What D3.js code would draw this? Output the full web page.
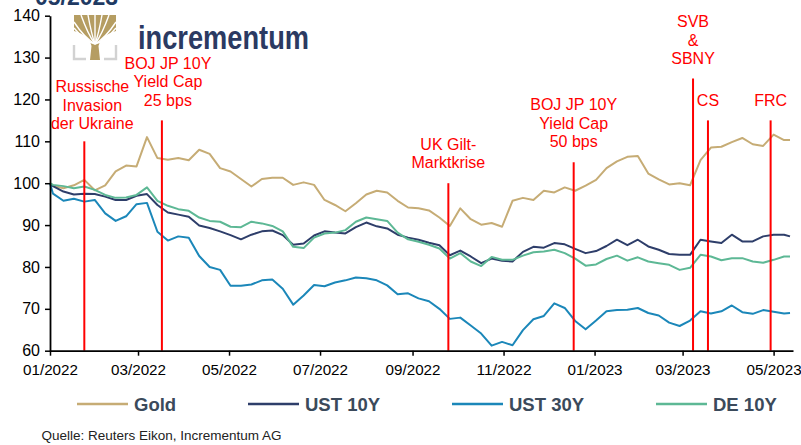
<!DOCTYPE html>
<html><head><meta charset="utf-8">
<script src="https://cdn.jsdelivr.net/npm/d3@7"></script>
<style>
body{margin:0;background:#fff}
svg{display:block}
text{font-family:"Liberation Sans",Arial,Helvetica,sans-serif}
</style>
</head><body>
<svg id="c" width="801" height="445"></svg>
<script>
// ---------- DATA ----------
const dates = ["2022-01-01","2022-01-03","2022-01-10","2022-01-17","2022-01-24","2022-01-31","2022-02-07","2022-02-14","2022-02-21","2022-02-28",
"2022-03-07","2022-03-14","2022-03-21","2022-03-28","2022-04-04","2022-04-11","2022-04-18","2022-04-25","2022-05-02","2022-05-09",
"2022-05-16","2022-05-23","2022-05-30","2022-06-06","2022-06-13","2022-06-20","2022-06-27","2022-07-04","2022-07-11","2022-07-18",
"2022-07-25","2022-08-01","2022-08-08","2022-08-15","2022-08-22","2022-08-29","2022-09-05","2022-09-12","2022-09-19","2022-09-26",
"2022-10-03","2022-10-10","2022-10-17","2022-10-24","2022-10-31","2022-11-07","2022-11-14","2022-11-21","2022-11-28","2022-12-05",
"2022-12-12","2022-12-19","2022-12-26","2023-01-02","2023-01-09","2023-01-16","2023-01-23","2023-01-30","2023-02-06","2023-02-13",
"2023-02-20","2023-02-27","2023-03-06","2023-03-13","2023-03-20","2023-03-27","2023-04-03","2023-04-10","2023-04-17","2023-04-24",
"2023-05-01","2023-05-08","2023-05-12"];

const gold = [100,99.4,98.8,99.5,100.8,98.3,99.5,102.8,104.2,104.0,
111.0,106.0,105.6,106.0,105.5,108.0,107.0,103.6,102.8,101.0,
99.2,101.0,101.3,101.3,99.6,100.2,99.6,96.0,94.8,93.3,
95.2,97.3,98.2,97.8,95.8,94.2,94.0,93.5,91.8,89.8,
94.0,91.4,90.1,90.5,89.6,95.8,96.5,96.0,98.2,97.8,
99.0,98.2,99.4,100.8,103.6,105.2,106.3,106.5,102.3,100.9,
99.7,100.0,99.5,105.5,108.5,108.7,109.8,110.8,109.3,108.9,
111.6,110.3,110.3];

const ust10 = [100,99.3,98.0,97.3,97.5,97.4,96.8,96.0,96.0,97.0,
97.4,94.8,93.0,92.5,92.0,89.9,89.3,88.5,87.6,86.6,
87.7,88.5,88.7,87.6,85.3,85.6,87.5,88.5,88.2,88.0,
89.5,90.6,89.7,89.2,87.7,87.0,86.5,85.8,85.2,82.8,
83.9,82.5,80.9,82.0,81.5,81.3,83.6,84.8,84.6,85.7,
85.4,84.3,83.3,83.8,85.0,86.5,85.2,86.5,84.9,84.1,
83.1,82.9,82.9,86.5,86.1,85.7,87.7,86.1,86.1,87.3,
87.7,87.7,87.3];

const ust30 = [100,97.5,95.8,96.3,95.6,96.0,92.8,91.0,92.1,95.0,
95.3,88.4,86.3,87.3,87.0,82.6,80.0,79.3,75.5,75.5,
75.8,76.8,77.0,74.8,71.0,73.2,75.7,75.4,76.3,76.8,
77.5,77.3,76.8,75.6,73.5,73.7,72.5,71.8,70.0,67.6,
67.9,66.0,64.1,61.2,62.1,61.3,64.9,67.5,68.3,71.3,
70.2,67.1,65.1,67.2,69.4,69.7,69.8,70.2,69.0,68.4,
66.7,65.9,67.2,69.4,68.9,69.4,70.8,69.2,68.8,69.7,
69.3,68.9,69.0];

const de10 = [100,99.6,99.3,98.8,99.2,98.4,97.2,96.5,96.6,97.2,
99.0,95.8,94.6,93.8,93.4,91.8,91.0,90.8,89.6,89.5,
90.8,90.4,89.8,88.5,84.8,84.5,87.0,88.0,88.2,88.8,
90.8,91.8,91.4,91.0,88.2,86.6,86.0,85.3,84.4,82.0,
83.3,81.3,80.2,82.4,81.7,81.7,82.7,83.5,83.7,84.1,
83.3,82.0,80.3,80.6,81.9,82.7,81.5,82.3,81.3,80.9,
80.5,79.3,79.8,82.9,82.5,81.6,82.1,82.1,81.3,81.0,
81.7,82.5,82.5];

const seriesNames = ["Gold","UST 10Y","UST 30Y","DE 10Y"];
const yTicks = [60,70,80,90,100,110,120,130,140];

const eventDates = ["2022-01-24","2022-03-17","2022-09-25","2022-12-18","2023-03-08","2023-03-18","2023-04-29"];
const eventTops  = [110,115,100,105,125,115,115];
const eventLabels = [["Russische","Invasion","der Ukraine"],["BOJ JP 10Y","Yield Cap","25 bps"],["UK Gilt-","Marktkrise"],
  ["BOJ JP 10Y","Yield Cap","50 bps"],["SVB","&","SBNY"],["CS"],["FRC"]];

// ---------- STYLE / LAYOUT ----------
const colors = ["#c6ac75","#2e3e6a","#1b87b9","#5db895"];
const labelDx = [8,6,0,0,0,0,0];
const labelGap = [12,14.5,15,15,14.5,14.5,14.5];
const lineH = 18.5;

const parse = d3.timeParse("%Y-%m-%d");
const svg = d3.select("#c");
svg.append("rect").attr("width",801).attr("height",445).attr("fill","#fff");

const x = d3.scaleTime().domain([parse("2022-01-01"), parse("2023-05-14")]).range([50, 793]);
const y = d3.scaleLinear().domain([60,140]).range([350.7, 15.7]);

// title fragment (cut at the top, as in the original)
svg.append("text").attr("x",35).attr("y",4.5).attr("font-size",23).attr("font-weight","bold")
  .attr("fill","#1f3a63").text("05/2023");

// logo
const logo = svg.append("g");
const gcol = "#b59d62";
logo.append("path").attr("d","M74,15 H116 V31 Q101,35 98.5,46 L100,60 H90 L91.5,46 Q89,35 74,31 Z").attr("fill",gcol);
[[81,15],[88,15],[95,15],[102,15],[109,15],[74,22],[116,22],[74,28],[116,28]].forEach(p=>{
  logo.append("path").attr("d",`M95,44 Q${(95+p[0])/2},${(44+p[1])/2+5} ${p[0]},${p[1]}`)
    .attr("fill","none").attr("stroke","#fff").attr("stroke-width",1.4);
});
logo.append("path").attr("d","M74,45 L74,59 L86,59").attr("fill","none").attr("stroke","#d2d2d2").attr("stroke-width",2.4);
logo.append("path").attr("d","M116,45 L116,59 L104,59").attr("fill","none").attr("stroke","#d2d2d2").attr("stroke-width",2.4);
logo.append("text").attr("x",138).attr("y",49).attr("font-size",33).attr("font-weight",600)
  .attr("font-family","'Open Sans',sans-serif").attr("fill","#2b3a62")
  .attr("textLength",171).attr("lengthAdjust","spacingAndGlyphs").text("incrementum");

// series
const allSeries = [gold, ust10, ust30, de10];
const line = d3.line().x((d,i)=>x(parse(dates[i]))).y(d=>y(d));
allSeries.forEach((s,i)=>{
  svg.append("path").datum(s).attr("d",line).attr("fill","none")
    .attr("stroke",colors[i]).attr("stroke-width",2).attr("stroke-linejoin","round");
});

// event lines + labels
eventDates.forEach((d,i)=>{
  const ex = x(parse(d));
  svg.append("line").attr("x1",ex).attr("x2",ex).attr("y1",y(60)).attr("y2",y(eventTops[i]))
    .attr("stroke","#ff0000").attr("stroke-width",2);
  const lines = eventLabels[i];
  const lastBase = y(eventTops[i]) - labelGap[i];
  lines.forEach((t,j)=>{
    svg.append("text").attr("x",ex+labelDx[i]).attr("y",lastBase - (lines.length-1-j)*lineH)
      .attr("text-anchor","middle").attr("font-size",16).attr("fill","#ff0000").text(t);
  });
});

// axes
const xAxis = d3.axisBottom(x).ticks(d3.timeMonth.every(2)).tickFormat(d3.timeFormat("%m/%Y")).tickSizeInner(5).tickSizeOuter(0).tickPadding(9);
const gx = svg.append("g").attr("transform",`translate(0,${y(60)})`).call(xAxis);
gx.selectAll("text").attr("font-size",15).attr("fill","#000").attr("font-family","'Liberation Sans',Arial,sans-serif")
  .attr("textLength",55).attr("lengthAdjust","spacingAndGlyphs");
gx.selectAll("line").attr("stroke","#000").attr("stroke-width",1.5);
gx.select(".domain").attr("stroke","#000").attr("stroke-width",1.8);

const yAxis = d3.axisLeft(y).tickValues(yTicks).tickSizeInner(5).tickSizeOuter(0).tickPadding(5);
const gy = svg.append("g").attr("transform","translate(50,0)").call(yAxis);
gy.selectAll("text").attr("font-size",16).attr("fill","#000").attr("font-family","'Liberation Sans',Arial,sans-serif");
gy.selectAll("line").attr("stroke","#000").attr("stroke-width",1.5);
gy.select(".domain").attr("stroke","#000").attr("stroke-width",1.8);

// legend
const legX = [77,248,452,656];
const leg = svg.append("g");
seriesNames.forEach((n,i)=>{
  leg.append("line").attr("x1",legX[i]).attr("x2",legX[i]+51).attr("y1",404).attr("y2",404)
    .attr("stroke",colors[i]).attr("stroke-width",2.5);
  leg.append("text").attr("x",legX[i]+57).attr("y",411).attr("font-size",18.5).attr("font-weight","bold")
    .attr("fill","#3b4a5b").text(n);
});

// source
svg.append("text").attr("x",41.5).attr("y",440).attr("font-size",13.5).attr("fill","#222")
  .text("Quelle: Reuters Eikon, Incrementum AG");
</script>
</body></html>
